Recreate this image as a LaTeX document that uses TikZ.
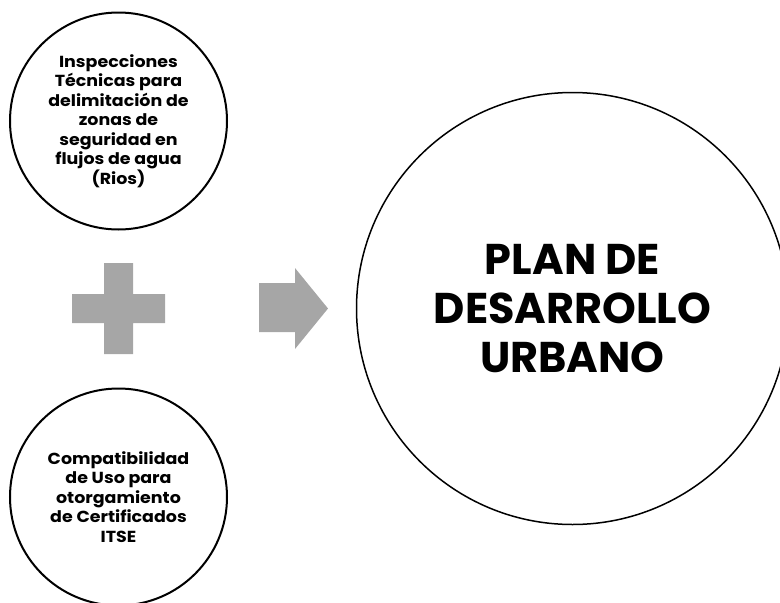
\documentclass[tikz,border=0pt]{standalone}
\usepackage{fontspec}
\setmainfont{Poppins}
\newfontfamily\widefont[FakeStretch=1.09]{Poppins}
\definecolor{shapegray}{HTML}{A6A6A6}
\tikzset{
  smallcirc/.style={circle, draw=black, line width=2pt, minimum size=217pt, inner sep=0pt, align=center,
    font=\widefont\bfseries\fontsize{16}{19.5}\selectfont},
  bigcirc/.style={circle, draw=black, line width=1.5pt, minimum size=432pt, inner sep=0pt, align=center,
    font=\bfseries\fontsize{43}{49}\selectfont},
  grayshape/.style={fill=shapegray, draw=none}
}
\begin{document}
\begin{tikzpicture}[x=1pt,y=-1pt]
\useasboundingbox (0,0) rectangle (780,603);
\clip (0,0) rectangle (780,603);
\node[smallcirc] (top) at (118.5,121) {Inspecciones\\Técnicas para\\delimitación de\\zonas de\\seguridad en\\flujos de agua\\(Rios)};
\node[smallcirc] (bot) at (118.5,497) {Compatibilidad\\de Uso para\\otorgamiento\\de Certificados\\ITSE};
\node[bigcirc] (plan) at (572.5,308.5) {PLAN DE\\DESARROLLO\\URBANO};
% plus sign
\fill[grayshape] (104,263) -- (133,263) -- (133,294) -- (165,294) -- (165,323) -- (133,323) -- (133,354) -- (104,354) -- (104,323) -- (72,323) -- (72,294) -- (104,294) -- cycle;
% block arrow
\fill[grayshape] (259,283) -- (295,283) -- (295,268) -- (328,308.5) -- (295,349) -- (295,332) -- (259,332) -- cycle;
\end{tikzpicture}
\end{document}
